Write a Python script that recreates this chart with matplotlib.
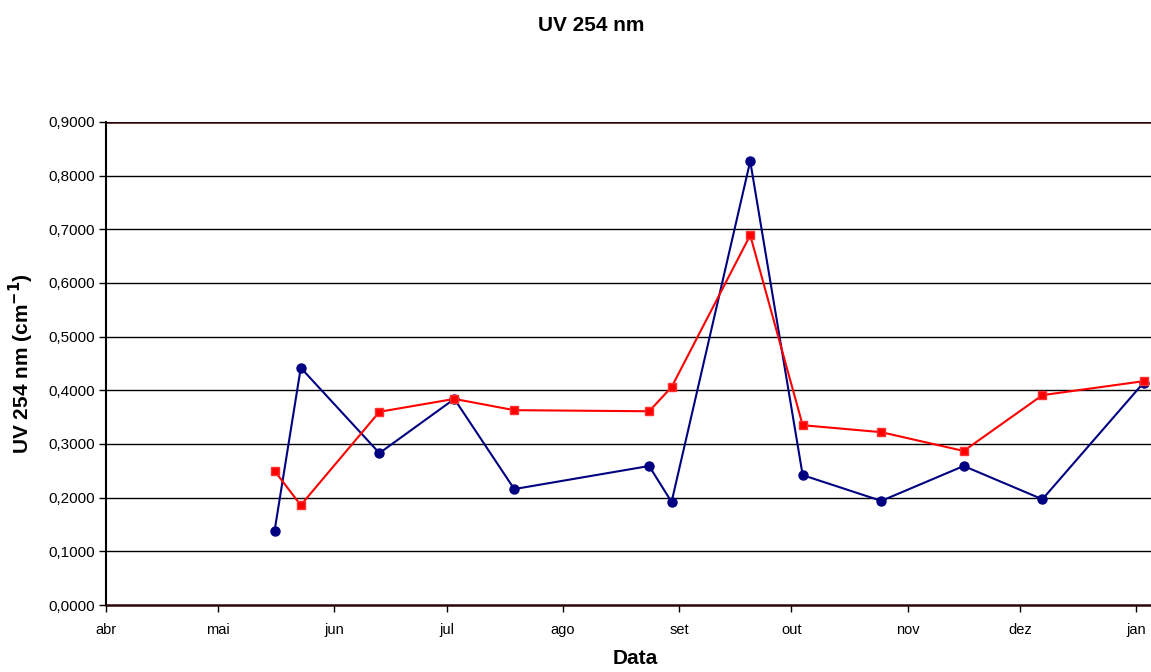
import datetime as dt
import matplotlib
matplotlib.use('Agg')
import matplotlib.pyplot as plt

plt.rcParams['font.family'] = ['Liberation Sans', 'DejaVu Sans']

# sampling dates (Apr -> Jan)
DATES = ['2006-05-16', '2006-05-23', '2006-06-13', '2006-07-03', '2006-07-19',
         '2006-08-24', '2006-08-30', '2006-09-20', '2006-10-04', '2006-10-25',
         '2006-11-16', '2006-12-07', '2007-01-03']
SERIES_A = [0.138, 0.442, 0.283, 0.384, 0.216, 0.259, 0.192, 0.827, 0.242,
            0.194, 0.259, 0.197, 0.414]
SERIES_B = [0.250, 0.186, 0.360, 0.384, 0.363, 0.361, 0.406, 0.689, 0.335,
            0.322, 0.287, 0.391, 0.417]

MONTH_LABELS = ['abr', 'mai', 'jun', 'jul', 'ago', 'set', 'out', 'nov', 'dez', 'jan']
MONTH_STARTS = ['2006-04-01', '2006-05-01', '2006-06-01', '2006-07-01', '2006-08-01',
                '2006-09-01', '2006-10-01', '2006-11-01', '2006-12-01', '2007-01-01']
Y_TICKS = [0.0, 0.1, 0.2, 0.3, 0.4, 0.5, 0.6, 0.7, 0.8, 0.9]

AXIS_DARK = '#2a0505'


def to_date(s):
    return dt.datetime.strptime(s, '%Y-%m-%d')


dates = [to_date(d) for d in DATES]

fig = plt.figure(figsize=(11.51, 6.72), dpi=100)
ax = fig.add_axes([0.0921, 0.0997, 0.9079, 0.7188])

# horizontal grid
for y in Y_TICKS[1:-1]:
    ax.axhline(y, color='black', linewidth=1.0, zorder=1)
ax.axhline(0.9, color=AXIS_DARK, linewidth=1.8, zorder=1)

ax.plot(dates, SERIES_A, color='#000080', linewidth=1.5, marker='o',
        markersize=6.5, zorder=3)
ax.plot(dates, SERIES_B, color='#ff0000', linewidth=1.5, marker='s',
        markersize=6, markerfacecolor='#ff0000', markeredgecolor='#ff3030', zorder=4)

ax.set_ylim(0, 0.9)
ax.set_xlim(to_date('2006-04-01'), to_date('2007-01-05'))
ax.set_yticks(Y_TICKS)
ax.set_yticklabels([f'{v:.4f}'.replace('.', ',') for v in Y_TICKS])
ax.set_xticks([to_date(m) for m in MONTH_STARTS])
ax.set_xticklabels(MONTH_LABELS)

for side in ['top', 'right']:
    ax.spines[side].set_visible(False)
ax.spines['left'].set_color('black')
ax.spines['left'].set_linewidth(1.5)
ax.spines['bottom'].set_color(AXIS_DARK)
ax.spines['bottom'].set_linewidth(1.8)

ax.tick_params(axis='y', direction='out', length=5, width=1, labelsize=11, pad=3)
ax.tick_params(axis='x', direction='out', length=5, width=1, labelsize=10.5, pad=8)

ax.set_ylabel('UV 254 nm (cm$^{\\mathbf{-1}}$)', fontsize=15, fontweight='bold', labelpad=9)
ax.set_xlabel('Data', fontsize=15, fontweight='bold')
ax.xaxis.set_label_coords(0.506, -0.092)
fig.text(0.514, 0.962, 'UV 254 nm', ha='center', va='center', fontsize=15, fontweight='bold')

fig.savefig('out.png', dpi=100)
